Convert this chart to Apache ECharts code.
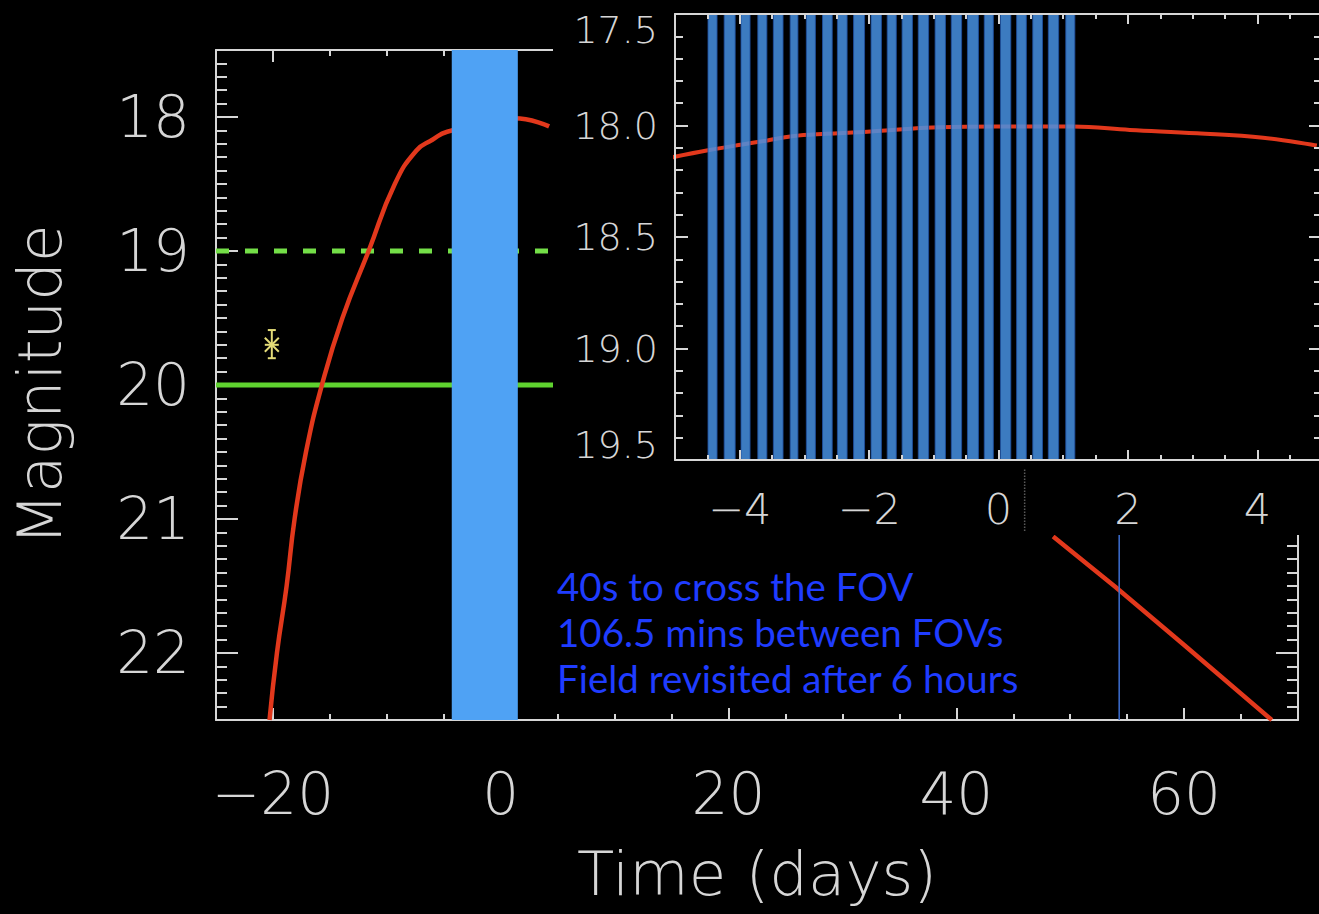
<!DOCTYPE html>
<html>
<head>
<meta charset="utf-8">
<title>Light curve and scan coverage</title>
<script src="https://cdn.jsdelivr.net/npm/echarts@6.0.0/dist/echarts.min.js"></script>
<style>
html, body { margin: 0; padding: 0; background: #000; }
#chart { width: 1319px; height: 914px; }
</style>
</head>
<body>
<div id="chart"></div>
<script>
// main panel: light curve (days, magnitude)
const curveDays = [-20.3, -19.65, -18.8, -18.1, -17.1, -15.7, -13.9, -11.6, -9.3, -7.4, -6.0, -4.7, 1.2, 4.25];
const curveMags = [22.5, 22.0, 21.5, 21.0, 20.5, 20.0, 19.5, 19.0, 18.5, 18.25, 18.17, 18.11, 18.01, 18.07];
// the decline that shows again below the inset
const tailDays = [48.5, 54.0, 60.0, 67.7];
const tailMags = [21.13, 21.51, 21.94, 22.5];

// inset: same curve around the peak
const insetDays = [-5.05, -4.47, -3.96, -3.59, -3.19, -2.66, -2.15, -1.64, -0.91, -0.03, 1.15, 2.03, 3.07, 4.09, 4.92];
const insetMags = [18.143, 18.11, 18.085, 18.068, 18.048, 18.037, 18.03, 18.02, 18.008, 18.005, 18.005, 18.02, 18.035, 18.055, 18.09];

// visits (start / end, days) in the inset
const visitStart = [-4.49, -4.24, -3.98, -3.72, -3.48, -3.22, -2.97, -2.72, -2.49, -2.24, -1.97, -1.72, -1.49, -1.24, -0.98, -0.73, -0.48, -0.22, 0.03, 0.28, 0.53, 0.77, 1.04];
const visitEnd = [-4.35, -4.07, -3.84, -3.58, -3.33, -3.10, -2.83, -2.57, -2.34, -2.07, -1.81, -1.58, -1.33, -1.08, -0.82, -0.57, -0.31, -0.08, 0.19, 0.43, 0.68, 0.93, 1.18];

// observing window in the main panel
const bandStart = -4.3;
const bandEnd = 1.5;

const limitDashed = 19;
const limitSolid = 20;

// detection with error bar
const pointDay = -20.1;
const pointMag = 19.70;
const pointLo = 19.59;
const pointHi = 19.80;

const markDay = 54.3;
const dotDay = 46;
const dotMags = [20.63, 21.1];

const xTicks = [-20, 0, 20, 40, 60];
const yTicks = [18, 19, 20, 21, 22];
const insetXTicks = [-4, -2, 0, 2, 4];

const notes = ['40s to cross the FOV', '106.5 mins between FOVs', 'Field revisited after 6 hours'];

const AX = '#d6d6d6';
const FONT = 'DejaVu Sans';
const RED = '#e2381c';
const minus = v => String(v).replace('-', '\u2212');
const zip = (a, b) => a.map((v, i) => [v, b[i]]);

function mkAxis(grid, pos, min, max, p) {
    return {
        type: 'value',
        gridIndex: grid,
        position: pos,
        min: min,
        max: max,
        interval: p.interval,
        inverse: !!p.inverse,
        zlevel: p.zlevel || 0,
        z: p.z || 0,
        axisLine: { show: !!p.line, onZero: false, lineStyle: { color: AX, width: 2 } },
        axisTick: { show: true, inside: true, length: p.len, customValues: p.ticks, lineStyle: { color: AX, width: 2 } },
        minorTick: p.minor
            ? { show: true, splitNumber: p.minor, length: p.minorLen, lineStyle: { color: AX, width: 2 } }
            : { show: false },
        axisLabel: p.label
            ? Object.assign({ color: AX, fontFamily: FONT, fontWeight: 200, formatter: minus }, p.label)
            : { show: false },
        splitLine: { show: false },
        name: p.name,
        nameLocation: 'middle',
        nameGap: p.nameGap,
        nameTextStyle: { color: AX, fontFamily: FONT, fontWeight: 200, fontSize: 61 },
    };
}

const I = { zlevel: 1, z: 4 };
const insetLabel = { color: AX, fontFamily: FONT, fontWeight: 200, fontSize: 38 };

const xAxis = [
    // main panel
    mkAxis(0, 'bottom', -25, 70, { interval: 5, len: 6, line: true, label: { customValues: xTicks, fontSize: 58, margin: 45 }, name: 'Time (days)', nameGap: 123 }),
    mkAxis(0, 'bottom', -25, 70, { len: 12, ticks: xTicks }),
    mkAxis(0, 'top', -25, 70, { interval: 5, len: 6, line: true }),
    mkAxis(0, 'top', -25, 70, { len: 12, ticks: xTicks }),
    // inset
    mkAxis(1, 'bottom', -5, 5, Object.assign({ interval: 0.5, len: 5, line: true, label: { customValues: insetXTicks, fontSize: 43, margin: 27 } }, I)),
    mkAxis(1, 'bottom', -5, 5, Object.assign({ len: 10, ticks: insetXTicks }, I)),
    mkAxis(1, 'top', -5, 5, Object.assign({ interval: 0.5, len: 5, line: true }, I)),
    mkAxis(1, 'top', -5, 5, Object.assign({ len: 10, ticks: insetXTicks }, I)),
];

const yAxis = [
    mkAxis(0, 'left', 17.5, 22.5, { inverse: true, interval: 0.1, len: 11, line: true, label: { customValues: yTicks, fontSize: 58, margin: 26 }, name: 'Magnitude', nameGap: 146 }),
    mkAxis(0, 'left', 17.5, 22.5, { inverse: true, len: 22, ticks: yTicks }),
    mkAxis(0, 'right', 17.5, 22.5, { inverse: true, interval: 0.1, len: 11, line: true }),
    mkAxis(0, 'right', 17.5, 22.5, { inverse: true, len: 22, ticks: yTicks }),
    mkAxis(1, 'left', 17.5, 19.5, Object.assign({ inverse: true, interval: 0.5, len: 13, minor: 5, minorLen: 8, line: true,
        label: {
            fontSize: 38, margin: 17,
            // end labels sit inside the frame, as in the original
            formatter: v => {
                const s = v.toFixed(1);
                if (v === 17.5) return '{top|' + s + '}';
                if (v === 19.5) return '{bot|' + s + '}';
                return s;
            },
            rich: {
                top: Object.assign({ padding: [32, 0, 0, 0] }, insetLabel),
                bot: Object.assign({ padding: [0, 0, 30, 0] }, insetLabel),
            },
        } }, I)),
    mkAxis(1, 'right', 17.5, 19.5, Object.assign({ inverse: true, interval: 0.5, len: 13, minor: 5, minorLen: 8, line: true }, I)),
];

function bandItem(params, api, style) {
    const x0 = api.coord([api.value(0), api.value(2)])[0];
    const x1 = api.coord([api.value(1), api.value(2)])[0];
    const cs = params.coordSys;
    return {
        type: 'rect',
        shape: { x: x0, y: cs.y, width: x1 - x0, height: cs.height },
        style: style,
    };
}

const series = [
    {
        type: 'line', xAxisIndex: 0, yAxisIndex: 0, z: 2,
        data: zip(curveDays, curveMags), smooth: 0.5, symbol: 'none',
        lineStyle: { color: RED, width: 4.5 },
    },
    {
        type: 'line', xAxisIndex: 0, yAxisIndex: 0, z: 2,
        data: zip(tailDays, tailMags), symbol: 'none',
        lineStyle: { color: RED, width: 4.5 },
    },
    {
        type: 'line', xAxisIndex: 0, yAxisIndex: 0, z: 1,
        data: [[-25, limitDashed], [70, limitDashed]], symbol: 'none',
        lineStyle: { color: '#74df48', width: 5, type: [13, 16] },
    },
    {
        type: 'line', xAxisIndex: 0, yAxisIndex: 0, z: 1,
        data: [[-25, limitSolid], [70, limitSolid]], symbol: 'none',
        lineStyle: { color: '#5fd22f', width: 5 },
    },
    {
        type: 'line', xAxisIndex: 0, yAxisIndex: 0, z: 3,
        data: [[markDay, 17.5], [markDay, 22.5]], symbol: 'none',
        lineStyle: { color: '#3d6fd2', width: 1.5 },
    },
    {
        type: 'custom', xAxisIndex: 0, yAxisIndex: 0, z: 5,
        data: [[bandStart, bandEnd, 20]],
        renderItem: (params, api) => bandItem(params, api, { fill: '#4fa2f4' }),
    },
    {
        type: 'custom', xAxisIndex: 0, yAxisIndex: 0, z: 6,
        data: [[pointDay, pointMag, pointLo, pointHi]],
        renderItem: (params, api) => {
            const c = api.coord([api.value(0), api.value(1)]);
            const lo = api.coord([api.value(0), api.value(2)]);
            const hi = api.coord([api.value(0), api.value(3)]);
            const st = { stroke: '#e4dc78', lineWidth: 2 };
            const seg = (x1, y1, x2, y2) => ({ type: 'line', shape: { x1, y1, x2, y2 }, style: st });
            return {
                type: 'group',
                children: [
                    seg(c[0], lo[1], c[0], hi[1]),
                    seg(c[0] - 4, lo[1], c[0] + 4, lo[1]),
                    seg(c[0] - 4, hi[1], c[0] + 4, hi[1]),
                    seg(c[0] - 7, c[1] - 7, c[0] + 7, c[1] + 7),
                    seg(c[0] - 7, c[1] + 7, c[0] + 7, c[1] - 7),
                    seg(c[0] - 7, c[1], c[0] + 7, c[1]),
                ],
            };
        },
    },
    {
        type: 'line', xAxisIndex: 0, yAxisIndex: 0, zlevel: 1, z: 6, clip: false,
        data: dotMags.map(m => [dotDay, m]), symbol: 'none',
        lineStyle: { color: '#5a5a5a', width: 1.5, type: 'dotted' },
    },
    // inset
    {
        type: 'line', xAxisIndex: 4, yAxisIndex: 4, zlevel: 1, z: 2,
        data: zip(insetDays, insetMags), smooth: 0.4, symbol: 'none',
        lineStyle: { color: RED, width: 4 },
    },
    {
        type: 'custom', xAxisIndex: 4, yAxisIndex: 4, zlevel: 1, z: 3,
        data: visitStart.map((s, i) => [s, visitEnd[i], 18.5]),
        renderItem: (params, api) => bandItem(params, api, { fill: '#4791e2', stroke: '#1f4f9e', lineWidth: 1, opacity: 0.85 }),
    },
];

const chart = echarts.init(document.getElementById('chart'), null, { renderer: 'svg' });
chart.setOption({
    animation: false,
    backgroundColor: '#000',
    grid: [
        { left: 216, top: 50, width: 1082, height: 670, containLabel: false, outerBoundsMode: 'none' },
        { left: 675, top: 14, width: 647, height: 446, containLabel: false, outerBoundsMode: 'none' },
    ],
    xAxis: xAxis,
    yAxis: yAxis,
    series: series,
    graphic: {
        elements: [
            // the inset sits on an opaque panel over the main plot
            { type: 'rect', zlevel: 1, z: 0, shape: { x: 553, y: 0, width: 770, height: 535 }, style: { fill: '#000' } },
            {
                type: 'text', zlevel: 1, z: 10, x: 557, y: 563,
                style: { text: notes.join('\n'), fill: '#1f3cff', fontSize: 38.5, fontFamily: 'Lato', lineHeight: 46, align: 'left', verticalAlign: 'top' },
            },
        ],
    },
});
</script>
</body>
</html>
